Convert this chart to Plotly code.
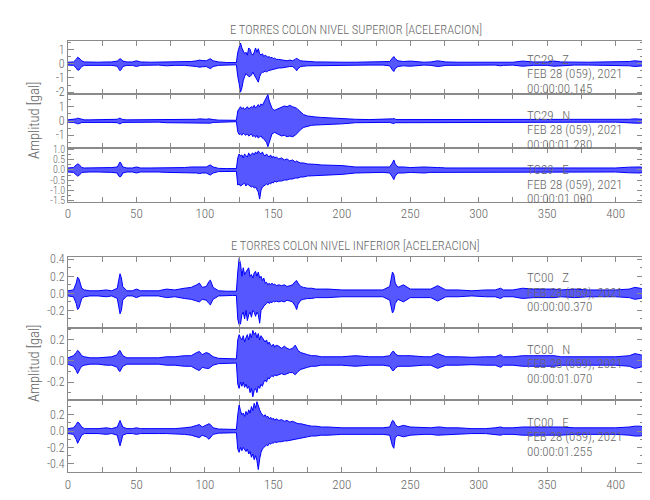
import plotly.graph_objects as go

# ---------------- data ----------------
# knot times (s) shared by every trace
T = [0, 4, 6, 7, 8, 9, 10, 12, 16, 22,
     28, 32, 36, 37, 38, 39, 40, 43, 47, 50,
     53, 60, 66, 72, 78, 85, 90, 94, 96, 98,
     101, 103, 104, 106, 110, 116, 120, 123,
     124, 125, 126, 127, 128, 129, 130, 131, 132, 133,
     134, 135, 136, 137, 138, 139, 140, 141, 142, 143,
     144, 145, 146, 147, 148, 149, 150, 151, 152,
     154, 156, 158, 160, 162, 164, 166, 167, 168, 170,
     172, 175, 178, 181,
     185, 190, 200, 210, 220, 230, 235, 237, 238, 239,
     241, 245, 250, 260, 265, 270, 272, 276, 285, 295,
     305, 312, 316, 318, 325, 332, 340, 350, 355, 360,
     370, 380, 390, 400, 410, 414, 418, 420]

# upper envelope (UP) and magnitude of the lower envelope (DN), gal
TC29_Z_UP = [0.10, 0.12, 0.30, 0.45, 0.40, 0.30, 0.20, 0.12, 0.10, 0.10,
             0.12, 0.12, 0.18, 0.30, 0.35, 0.30, 0.18, 0.12, 0.12, 0.20,
             0.12, 0.10, 0.10, 0.15, 0.12, 0.12, 0.15, 0.20, 0.25, 0.22,
             0.20, 0.30, 0.35, 0.20, 0.12, 0.08, 0.08, 0.08,
             0.80, 1.20, 1.45, 1.10, 0.90, 0.70, 0.80, 0.60, 1.10, 1.00,
             0.70, 0.60, 0.80, 1.10, 0.80, 1.05, 0.70, 0.60, 0.70, 0.50,
             0.60, 0.55, 0.45, 0.50, 0.40, 0.45, 0.35, 0.40, 0.30,
             0.30, 0.25, 0.25, 0.20, 0.25, 0.20, 0.30, 0.40, 0.30, 0.20,
             0.18, 0.15, 0.15, 0.12,
             0.12, 0.10, 0.10, 0.10, 0.10, 0.10, 0.15, 0.40, 0.50, 0.35,
             0.20, 0.15, 0.18, 0.10, 0.12, 0.20, 0.18, 0.12, 0.10, 0.10,
             0.10, 0.10, 0.15, 0.12, 0.10, 0.18, 0.12, 0.12, 0.18, 0.12,
             0.10, 0.10, 0.12, 0.12, 0.15, 0.20, 0.18, 0.15]
TC29_Z_DN = [0.10, 0.12, 0.30, 0.45, 0.45, 0.30, 0.20, 0.12, 0.10, 0.10,
             0.12, 0.12, 0.18, 0.35, 0.50, 0.40, 0.20, 0.12, 0.12, 0.20,
             0.12, 0.10, 0.10, 0.15, 0.12, 0.12, 0.15, 0.20, 0.25, 0.22,
             0.20, 0.30, 0.35, 0.20, 0.12, 0.08, 0.08, 0.08,
             0.90, 1.40, 2.00, 1.70, 1.20, 0.90, 0.70, 0.80, 0.90, 0.90,
             0.80, 0.60, 0.70, 1.00, 1.10, 1.30, 0.90, 0.70, 0.60, 0.60,
             0.50, 0.60, 0.50, 0.45, 0.40, 0.40, 0.40, 0.35, 0.35,
             0.30, 0.30, 0.25, 0.25, 0.20, 0.20, 0.35, 0.50, 0.35, 0.20,
             0.18, 0.15, 0.15, 0.12,
             0.12, 0.10, 0.10, 0.10, 0.10, 0.10, 0.15, 0.45, 0.55, 0.35,
             0.20, 0.15, 0.18, 0.10, 0.12, 0.20, 0.18, 0.12, 0.10, 0.10,
             0.10, 0.10, 0.15, 0.12, 0.10, 0.18, 0.12, 0.12, 0.18, 0.12,
             0.10, 0.10, 0.12, 0.12, 0.15, 0.20, 0.18, 0.15]

TC29_N_UP = [0.08, 0.10, 0.15, 0.20, 0.18, 0.15, 0.10, 0.08, 0.08, 0.08,
             0.10, 0.10, 0.12, 0.18, 0.20, 0.15, 0.10, 0.08, 0.08, 0.10,
             0.08, 0.08, 0.08, 0.12, 0.10, 0.10, 0.12, 0.12, 0.15, 0.12,
             0.12, 0.15, 0.15, 0.10, 0.06, 0.05, 0.05, 0.05,
             0.70, 0.90, 1.00, 0.85, 0.95, 0.80, 0.90, 1.00, 0.85, 0.90,
             1.00, 0.95, 1.10, 0.90, 1.05, 1.15, 1.00, 1.20, 1.10, 1.30,
             1.50, 1.70, 1.85, 1.40, 1.10, 0.90, 0.80, 0.75, 0.80,
             0.90, 1.00, 1.05, 1.00, 1.10, 1.00, 0.95, 0.90, 0.80, 0.60,
             0.45, 0.35, 0.30, 0.28,
             0.25, 0.22, 0.20, 0.12, 0.10, 0.10, 0.10, 0.15, 0.18, 0.12,
             0.10, 0.10, 0.10, 0.10, 0.10, 0.12, 0.10, 0.10, 0.08, 0.08,
             0.08, 0.08, 0.10, 0.08, 0.08, 0.10, 0.08, 0.08, 0.10, 0.08,
             0.08, 0.08, 0.08, 0.08, 0.12, 0.15, 0.15, 0.12]
TC29_N_DN = [0.08, 0.10, 0.15, 0.20, 0.18, 0.15, 0.10, 0.08, 0.08, 0.08,
             0.10, 0.10, 0.12, 0.18, 0.20, 0.15, 0.10, 0.08, 0.08, 0.10,
             0.08, 0.08, 0.08, 0.12, 0.10, 0.10, 0.12, 0.12, 0.15, 0.12,
             0.12, 0.15, 0.15, 0.10, 0.06, 0.05, 0.05, 0.05,
             0.75, 0.95, 0.90, 1.00, 0.85, 0.95, 1.00, 0.90, 1.05, 0.95,
             0.90, 1.10, 1.00, 1.15, 1.00, 1.20, 1.10, 1.05, 1.20, 1.25,
             1.35, 1.50, 1.80, 1.60, 1.20, 0.90, 0.85, 0.80, 0.85,
             0.95, 1.05, 1.00, 1.10, 1.05, 1.10, 1.00, 0.90, 0.80, 0.60,
             0.45, 0.35, 0.30, 0.28,
             0.25, 0.22, 0.20, 0.12, 0.10, 0.10, 0.10, 0.15, 0.18, 0.12,
             0.10, 0.10, 0.10, 0.10, 0.10, 0.12, 0.10, 0.10, 0.08, 0.08,
             0.08, 0.08, 0.10, 0.08, 0.08, 0.10, 0.08, 0.08, 0.10, 0.08,
             0.08, 0.08, 0.08, 0.08, 0.12, 0.15, 0.15, 0.12]

TC29_E_UP = [0.10, 0.12, 0.25, 0.30, 0.28, 0.20, 0.12, 0.10, 0.10, 0.10,
             0.10, 0.12, 0.15, 0.30, 0.40, 0.30, 0.15, 0.10, 0.10, 0.15,
             0.10, 0.10, 0.10, 0.12, 0.12, 0.12, 0.15, 0.15, 0.18, 0.15,
             0.15, 0.22, 0.25, 0.15, 0.08, 0.07, 0.07, 0.07,
             0.60, 0.80, 0.70, 0.75, 0.60, 0.80, 0.70, 0.65, 0.85, 0.70,
             0.80, 0.85, 0.75, 0.90, 0.80, 0.95, 0.85, 0.80, 0.90, 0.75,
             0.70, 0.80, 0.70, 0.65, 0.75, 0.60, 0.70, 0.60, 0.65,
             0.55, 0.60, 0.50, 0.55, 0.45, 0.50, 0.40, 0.45, 0.40, 0.35,
             0.35, 0.30, 0.30, 0.28,
             0.25, 0.25, 0.22, 0.15, 0.15, 0.12, 0.15, 0.35, 0.50, 0.30,
             0.15, 0.15, 0.12, 0.15, 0.12, 0.12, 0.12, 0.10, 0.10, 0.10,
             0.10, 0.10, 0.12, 0.10, 0.10, 0.12, 0.10, 0.10, 0.12, 0.10,
             0.10, 0.10, 0.10, 0.10, 0.14, 0.15, 0.15, 0.12]
TC29_E_DN = [0.10, 0.12, 0.25, 0.30, 0.28, 0.20, 0.12, 0.10, 0.10, 0.10,
             0.10, 0.12, 0.15, 0.30, 0.35, 0.30, 0.15, 0.10, 0.10, 0.15,
             0.10, 0.10, 0.10, 0.12, 0.12, 0.12, 0.15, 0.15, 0.18, 0.15,
             0.15, 0.22, 0.25, 0.15, 0.08, 0.07, 0.07, 0.07,
             0.75, 0.70, 0.80, 0.75, 0.70, 0.65, 0.80, 0.70, 0.75, 0.80,
             0.85, 0.80, 0.90, 0.85, 1.00, 1.10, 1.45, 1.00, 0.85, 0.80,
             0.75, 0.70, 0.75, 0.65, 0.70, 0.60, 0.65, 0.55, 0.60,
             0.55, 0.55, 0.50, 0.50, 0.45, 0.45, 0.40, 0.40, 0.40, 0.35,
             0.35, 0.30, 0.30, 0.28,
             0.25, 0.25, 0.22, 0.15, 0.15, 0.12, 0.15, 0.35, 0.48, 0.30,
             0.15, 0.15, 0.12, 0.15, 0.12, 0.12, 0.12, 0.10, 0.10, 0.10,
             0.10, 0.10, 0.12, 0.10, 0.10, 0.12, 0.10, 0.10, 0.12, 0.10,
             0.10, 0.10, 0.10, 0.10, 0.14, 0.15, 0.15, 0.12]

TC00_Z_UP = [0.03, 0.04, 0.12, 0.19, 0.17, 0.12, 0.06, 0.04, 0.03, 0.03,
             0.04, 0.03, 0.06, 0.15, 0.23, 0.18, 0.08, 0.03, 0.03, 0.05,
             0.03, 0.03, 0.03, 0.05, 0.04, 0.06, 0.07, 0.10, 0.12, 0.07,
             0.08, 0.14, 0.155, 0.07, 0.03, 0.025, 0.025, 0.025,
             0.25, 0.41, 0.35, 0.20, 0.30, 0.22, 0.25, 0.28, 0.30, 0.20,
             0.22, 0.18, 0.24, 0.26, 0.20, 0.25, 0.18, 0.20, 0.15, 0.18,
             0.12, 0.13, 0.10, 0.12, 0.10, 0.12, 0.10, 0.11, 0.09,
             0.10, 0.09, 0.10, 0.08, 0.09, 0.10, 0.14, 0.15, 0.12, 0.08,
             0.07, 0.06, 0.06, 0.05,
             0.05, 0.05, 0.04, 0.04, 0.04, 0.04, 0.08, 0.25, 0.22, 0.12,
             0.07, 0.10, 0.05, 0.05, 0.05, 0.09, 0.07, 0.04, 0.04, 0.03,
             0.04, 0.04, 0.06, 0.04, 0.04, 0.06, 0.05, 0.05, 0.05, 0.04,
             0.05, 0.04, 0.04, 0.04, 0.05, 0.07, 0.06, 0.05]
TC00_Z_DN = [0.03, 0.04, 0.12, 0.19, 0.17, 0.12, 0.06, 0.04, 0.03, 0.03,
             0.04, 0.03, 0.06, 0.15, 0.24, 0.20, 0.08, 0.03, 0.03, 0.05,
             0.03, 0.03, 0.03, 0.05, 0.04, 0.06, 0.07, 0.09, 0.10, 0.07,
             0.08, 0.12, 0.135, 0.07, 0.03, 0.025, 0.025, 0.025,
             0.30, 0.37, 0.36, 0.25, 0.22, 0.30, 0.20, 0.32, 0.25, 0.22,
             0.28, 0.20, 0.22, 0.27, 0.22, 0.25, 0.35, 0.20, 0.18, 0.15,
             0.13, 0.12, 0.10, 0.12, 0.10, 0.11, 0.09, 0.10, 0.09,
             0.10, 0.09, 0.10, 0.08, 0.09, 0.10, 0.15, 0.19, 0.13, 0.08,
             0.07, 0.06, 0.06, 0.05,
             0.05, 0.05, 0.04, 0.04, 0.04, 0.04, 0.08, 0.23, 0.20, 0.12,
             0.07, 0.10, 0.05, 0.05, 0.05, 0.09, 0.07, 0.04, 0.04, 0.03,
             0.04, 0.04, 0.06, 0.04, 0.04, 0.06, 0.05, 0.05, 0.05, 0.04,
             0.05, 0.04, 0.04, 0.04, 0.05, 0.07, 0.06, 0.05]

TC00_N_UP = [0.03, 0.05, 0.08, 0.10, 0.09, 0.07, 0.05, 0.04, 0.03, 0.03,
             0.04, 0.04, 0.06, 0.09, 0.10, 0.08, 0.05, 0.03, 0.03, 0.03,
             0.03, 0.03, 0.03, 0.04, 0.04, 0.05, 0.05, 0.08, 0.09, 0.06,
             0.08, 0.07, 0.06, 0.04, 0.025, 0.02, 0.02, 0.02,
             0.20, 0.25, 0.22, 0.20, 0.24, 0.18, 0.22, 0.25, 0.20, 0.26,
             0.22, 0.29, 0.25, 0.27, 0.22, 0.26, 0.20, 0.24, 0.22, 0.20,
             0.18, 0.20, 0.16, 0.18, 0.15, 0.14, 0.16, 0.13, 0.15,
             0.14, 0.12, 0.14, 0.12, 0.11, 0.12, 0.15, 0.13, 0.10, 0.08,
             0.07, 0.06, 0.05, 0.05,
             0.04, 0.04, 0.04, 0.05, 0.04, 0.04, 0.05, 0.09, 0.09, 0.07,
             0.05, 0.05, 0.05, 0.04, 0.04, 0.07, 0.06, 0.04, 0.04, 0.035,
             0.04, 0.04, 0.06, 0.04, 0.04, 0.05, 0.05, 0.05, 0.05, 0.04,
             0.04, 0.04, 0.04, 0.04, 0.05, 0.07, 0.06, 0.05]
TC00_N_DN = [0.03, 0.05, 0.09, 0.12, 0.10, 0.07, 0.05, 0.04, 0.03, 0.03,
             0.04, 0.04, 0.06, 0.09, 0.10, 0.08, 0.05, 0.03, 0.03, 0.03,
             0.03, 0.03, 0.03, 0.04, 0.04, 0.05, 0.05, 0.08, 0.09, 0.06,
             0.07, 0.07, 0.06, 0.04, 0.025, 0.02, 0.02, 0.02,
             0.22, 0.26, 0.20, 0.24, 0.20, 0.25, 0.22, 0.26, 0.24, 0.30,
             0.26, 0.34, 0.28, 0.26, 0.30, 0.24, 0.26, 0.22, 0.24, 0.20,
             0.18, 0.20, 0.16, 0.17, 0.15, 0.14, 0.15, 0.13, 0.14,
             0.13, 0.12, 0.13, 0.12, 0.11, 0.11, 0.13, 0.12, 0.10, 0.08,
             0.07, 0.06, 0.05, 0.05,
             0.04, 0.04, 0.04, 0.05, 0.04, 0.04, 0.05, 0.09, 0.09, 0.07,
             0.05, 0.05, 0.05, 0.04, 0.04, 0.07, 0.06, 0.04, 0.04, 0.035,
             0.04, 0.04, 0.06, 0.04, 0.04, 0.05, 0.05, 0.05, 0.05, 0.04,
             0.04, 0.04, 0.04, 0.04, 0.05, 0.07, 0.06, 0.05]

TC00_E_UP = [0.03, 0.04, 0.08, 0.11, 0.10, 0.07, 0.05, 0.03, 0.03, 0.03,
             0.04, 0.03, 0.05, 0.10, 0.13, 0.09, 0.05, 0.03, 0.03, 0.04,
             0.03, 0.03, 0.03, 0.03, 0.03, 0.04, 0.05, 0.07, 0.08, 0.05,
             0.07, 0.09, 0.08, 0.04, 0.025, 0.02, 0.02, 0.02,
             0.20, 0.32, 0.25, 0.20, 0.22, 0.18, 0.24, 0.20, 0.26, 0.22,
             0.30, 0.25, 0.34, 0.28, 0.36, 0.30, 0.26, 0.22, 0.20, 0.18,
             0.20, 0.17, 0.18, 0.15, 0.17, 0.14, 0.16, 0.13, 0.15,
             0.13, 0.14, 0.12, 0.13, 0.11, 0.12, 0.10, 0.10, 0.09, 0.09,
             0.08, 0.07, 0.06, 0.06,
             0.05, 0.05, 0.04, 0.04, 0.04, 0.04, 0.05, 0.13, 0.12, 0.08,
             0.05, 0.07, 0.05, 0.04, 0.04, 0.05, 0.05, 0.04, 0.04, 0.03,
             0.03, 0.04, 0.05, 0.04, 0.04, 0.05, 0.05, 0.05, 0.05, 0.05,
             0.04, 0.04, 0.04, 0.04, 0.05, 0.06, 0.06, 0.05]
TC00_E_DN = [0.03, 0.04, 0.10, 0.15, 0.12, 0.08, 0.05, 0.03, 0.03, 0.03,
             0.04, 0.03, 0.05, 0.12, 0.18, 0.12, 0.05, 0.03, 0.03, 0.04,
             0.03, 0.03, 0.03, 0.03, 0.03, 0.04, 0.05, 0.07, 0.08, 0.05,
             0.07, 0.10, 0.08, 0.04, 0.025, 0.02, 0.02, 0.02,
             0.22, 0.26, 0.20, 0.24, 0.20, 0.22, 0.25, 0.22, 0.28, 0.25,
             0.32, 0.28, 0.35, 0.30, 0.36, 0.47, 0.34, 0.26, 0.22, 0.20,
             0.18, 0.17, 0.18, 0.15, 0.16, 0.14, 0.15, 0.13, 0.14,
             0.13, 0.13, 0.12, 0.12, 0.11, 0.11, 0.10, 0.10, 0.09, 0.09,
             0.08, 0.07, 0.06, 0.06,
             0.05, 0.05, 0.04, 0.04, 0.04, 0.04, 0.05, 0.18, 0.21, 0.08,
             0.05, 0.07, 0.05, 0.04, 0.04, 0.05, 0.05, 0.04, 0.04, 0.03,
             0.03, 0.04, 0.05, 0.04, 0.04, 0.05, 0.05, 0.05, 0.05, 0.05,
             0.04, 0.04, 0.04, 0.04, 0.05, 0.06, 0.06, 0.05]

STATIONS = ["TC29", "TC29", "TC29", "TC00", "TC00", "TC00"]
COMPONENTS = ["Z", "N", "E", "Z", "N", "E"]
DATE_TEXT = "FEB 28 (059), 2021"
START_TIMES = ["00:00:00.145", "00:00:01.230", "00:00:01.090",
               "00:00:00.370", "00:00:01.070", "00:00:01.255"]
TITLES = ["E TORRES COLON NIVEL SUPERIOR [ACELERACION]",
          "E TORRES COLON NIVEL INFERIOR [ACELERACION]"]
Y_TITLE = "Amplitud [gal]"

Y_TICKS = [[1, 0, -1, -2], [1, 0, -1], [1.0, 0.5, 0.0, -0.5, -1.0, -1.5],
           [0.4, 0.2, 0.0, -0.2], [0.2, 0.0, -0.2], [0.2, 0.0, -0.2, -0.4]]
Y_TICKTEXT = [["1", "0", "-1", "-2"], ["1", "0", "-1"],
              ["1.0", "0.5", "0.0", "-0.5", "-1.0", "-1.5"],
              ["0.4", "0.2", "0.0", "-0.2"], ["0.2", "0.0", "-0.2"],
              ["0.2", "0.0", "-0.2", "-0.4"]]
X_TICKS = list(range(0, 421, 25))
X_TICKTEXT = [str(v) if v % 50 == 0 else "" for v in X_TICKS]

UPS = [TC29_Z_UP, TC29_N_UP, TC29_E_UP, TC00_Z_UP, TC00_N_UP, TC00_E_UP]
DNS = [TC29_Z_DN, TC29_N_DN, TC29_E_DN, TC00_Z_DN, TC00_N_DN, TC00_E_DN]

# ---------------- layout / styling ----------------
# the page body adds an 8 px offset; target screen box of the plot area:
SCR_L, SCR_R, SCR_T, SCR_B = 68, 643, 41, 472
OFF = 8
W, H = 650, 500
ML = SCR_L - OFF
MR = W - (SCR_R - OFF)
MT = SCR_T - OFF
MB = H - (SCR_B - OFF)
PH = SCR_B - SCR_T
PW = SCR_R - SCR_L
Y_RANGES = [[-2.15, 1.59], [-1.87, 1.87], [-1.58, 1.11],
            [-0.41, 0.43], [-0.37, 0.31], [-0.50, 0.38]]
Y_MINOR = [0.5, 0.5, 0.25, 0.1, 0.1, 0.1]
Y_TICKFONT = [12, 12, 10, 12, 12, 12]
PANEL_PX = [(41, 94.3), (94.3, 147.7), (147.7, 201.7),
            (256.7, 328.3), (328.3, 400), (400, 472)]
LABEL_PY = [(60, 74, 88), (115, 130, 144), (169, 184, 198),
            (277, 292, 306), (349, 363, 378), (422, 436, 451)]

FONT = "Roboto Condensed, DejaVu Sans Condensed, Liberation Sans, sans-serif"
TXT = "#666666"
AX = "#8a8a8a"
BLUE = "#0000ff"


def py2paper(py):
    return (SCR_B - py) / PH


def px2paper(px):
    return (px - SCR_L) / PW


fig = go.Figure()
for i in range(6):
    up = UPS[i]
    dn = [-d for d in DNS[i]]
    ax = "" if i == 0 else str(i + 1)
    fig.add_trace(go.Scatter(
        x=T + T[::-1], y=up + dn[::-1], mode="lines", fill="toself",
        fillcolor="rgba(0,0,255,0.66)", line=dict(color=BLUE, width=1),
        xaxis="x" + ax, yaxis="y" + ax, hoverinfo="skip", showlegend=False))

layout = dict(
    width=W, height=H, margin=dict(l=ML, r=MR, t=MT, b=MB, autoexpand=False),
    paper_bgcolor="white", plot_bgcolor="white", showlegend=False,
    font=dict(family=FONT, size=12, color=TXT),
)
for i in range(6):
    ax = "" if i == 0 else str(i + 1)
    top, bot = PANEL_PX[i]
    layout["xaxis" + ax] = dict(
        domain=[0, 1], range=[0, 420], anchor="y" + ax, automargin=False,
        showline=True, linecolor=AX, linewidth=1, mirror="ticks",
        ticks="inside", ticklen=5, tickcolor=AX,
        tickvals=X_TICKS, ticktext=X_TICKTEXT,
        showticklabels=(i in (2, 5)), showgrid=False, zeroline=False,
        tickfont=dict(family=FONT, size=13, color=TXT, weight=300),
    )
    layout["yaxis" + ax] = dict(
        domain=[py2paper(bot), py2paper(top)], range=Y_RANGES[i],
        anchor="x" + ax, automargin=False,
        showline=True, linecolor=AX, linewidth=1,
        mirror="ticks", ticks="inside", ticklen=6, tickcolor=AX,
        tickvals=Y_TICKS[i], ticktext=Y_TICKTEXT[i],
        minor=dict(dtick=Y_MINOR[i], ticks="inside", ticklen=3,
                   tickcolor=AX, showgrid=False),
        showgrid=False, zeroline=False,
        tickfont=dict(family=FONT, size=Y_TICKFONT[i], color=TXT, weight=300),
    )

ann = []
for i in range(6):
    lines = [STATIONS[i] + "\u00a0\u00a0\u00a0" + COMPONENTS[i],
             DATE_TEXT, START_TIMES[i]]
    for txt, py in zip(lines, LABEL_PY[i]):
        ann.append(dict(text=txt, xref="paper", yref="paper",
                        x=px2paper(525), y=py2paper(py),
                        xanchor="left", yanchor="middle", showarrow=False,
                        font=dict(family=FONT, size=13, color=TXT, weight=300)))
for title, py in zip(TITLES, (29, 245)):
    ann.append(dict(text=title, xref="paper", yref="paper",
                    x=0.5, y=py2paper(py), xanchor="center", yanchor="middle",
                    showarrow=False,
                    font=dict(family=FONT, size=12.5, color=TXT, weight=300)))
for py in (121, 364):
    ann.append(dict(text=Y_TITLE, xref="paper", yref="paper",
                    x=px2paper(34), y=py2paper(py), xanchor="center",
                    yanchor="middle", textangle=-90, showarrow=False,
                    font=dict(family=FONT, size=14.5, color=TXT, weight=300)))
layout["annotations"] = ann

fig.update_layout(**layout)
fig.write_html("out.html")
